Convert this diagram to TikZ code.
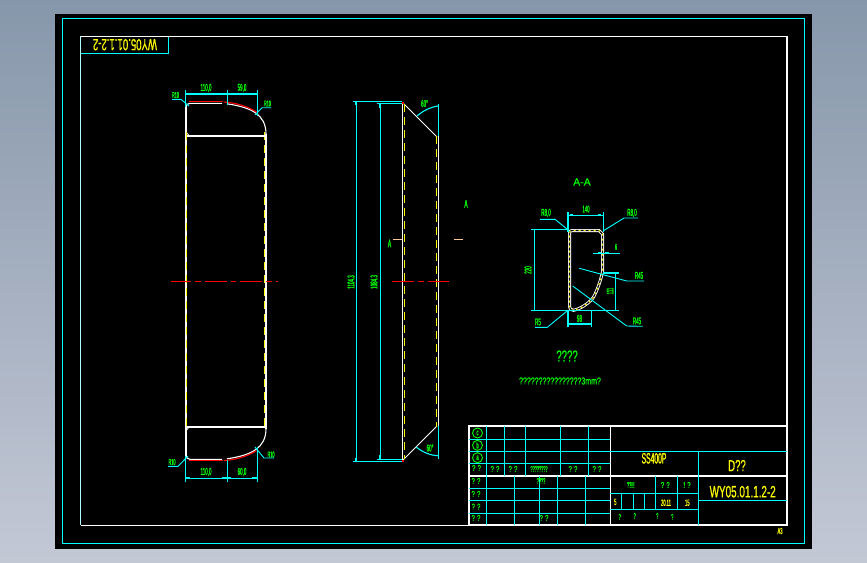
\documentclass[tikz,border=0pt]{standalone}
\usepackage{fontspec}
\newfontfamily\fa[FakeStretch=0.45,FakeBold=0.8]{Liberation Sans}
\newfontfamily\fb[FakeStretch=0.7,FakeBold=0.5]{Liberation Sans}
\newfontfamily\fd[FakeStretch=0.6,FakeBold=0.5]{Liberation Sans}
\newfontfamily\fe[FakeBold=0.4]{Liberation Sans}
\definecolor{cady}{HTML}{FFFF00}
\definecolor{cadg}{HTML}{00FF00}
\definecolor{cadc}{HTML}{00FFFF}
\definecolor{cadr}{HTML}{FF0000}
\definecolor{cadp}{HTML}{FFC89B}
\definecolor{bgtop}{HTML}{8797AB}
\definecolor{bgbot}{HTML}{C3C8D5}
\tikzset{
  wl/.style={draw=white,line width=1.1pt},
  wt/.style={draw=white,line width=0.8pt},
  yd/.style={draw=cady,line width=1pt,dash pattern=on 8pt off 5pt},
  rl/.style={draw=cadr,line width=1.1pt},
  cl/.style={draw=cadr,line width=1pt,dash pattern=on 22pt off 4pt on 5.5pt off 4pt},
  dm/.style={draw=cadc,line width=1.1pt},
  cy/.style={draw=cadc,line width=0.9pt},
  tk/.style={draw=cadc,line width=2.2pt},
  gt/.style={text=cadg,font=\fa\fontsize{10}{10}\selectfont,inner sep=0pt},
  gs/.style={text=cadg,font=\fa\fontsize{8.5}{8.5}\selectfont,inner sep=0pt},
  gq/.style={text=cadg,font=\fb\fontsize{8.5}{8.5}\selectfont,inner sep=0pt},
  yt/.style={text=cady,font=\fa\fontsize{9}{9}\selectfont,inner sep=0pt},
  wall/.style={draw=white,line width=3pt},
}
\newcommand{\halfview}{%
  \draw[wl] (186,108) .. controls (186,105) and (187,103.5) .. (190,103.3) -- (222,103.3);
  \draw[wl] (227,103.8) .. controls (240,105.7) and (250,108.7) .. (256,113.2) .. controls (262,117.5) and (266,124) .. (266,134);
  \draw[rl] (188.5,101.7) -- (223,101.7);
  \draw[rl] (224,102) .. controls (236,103) and (247,106) .. (256.5,112);
  \draw[wl,line width=1.6pt] (187,135.7) -- (265,135.7);
  \draw[wt] (187,133) -- (189,135.5);
}
\begin{document}
\begin{tikzpicture}[x=1pt,y=-1pt]
\useasboundingbox (0,0) rectangle (867,562);
\shade[top color=bgtop,bottom color=bgbot] (0,0) rectangle (867,562);
\fill[fill=black] (55,13.5) rectangle (812,548.5);
\draw[cy,line width=1.1pt] (62.3,18.5) rectangle (804.5,543.5);
\draw[draw=white,line width=1.2pt] (80.5,36.3) -- (787,36.3) -- (787,525.3) -- (80.5,525.3);
\draw[draw=white!70!cadc,line width=0.8pt] (80.5,36.3) -- (80.5,525.3);

% frame stamp
\draw[cy,line width=1.1pt] (168.7,36.5) -- (168.7,53.3) -- (80.5,53.3);
\node[text=cady,inner sep=0pt,rotate=180,font=\fd\fontsize{16}{16}\selectfont] (stamp) at (125,44.7) {WY05.01.1.2-2};

% left view
\draw[wl] (186,107) -- (186,455.6);
\draw[wl] (266,134) -- (266,428.6);
\draw[yd] (186.7,132) -- (186.7,431);
\draw[yd] (264.6,132) -- (264.6,431);
\halfview
\begin{scope}[shift={(0,562.6)},yscale=-1]
\halfview
\end{scope}
\draw[cl,dash phase=2pt] (171,281.3) -- (278,281.3);
% left view dimensions
\draw[dm] (185.5,90) -- (185.5,107);
\draw[dm] (227.3,90) -- (227.3,105);
\draw[dm] (257.3,90) -- (257.3,116);
\draw[dm] (185.5,94) -- (257.3,94);
\draw[tk] (186,94) -- (190,94) (222,94) -- (227,94) (228,94) -- (231,94) (252,94) -- (257,94);
\draw[dm] (185.5,456) -- (185.5,482);
\draw[dm] (227.3,460) -- (227.3,482);
\draw[dm] (257.3,447) -- (257.3,482);
\draw[dm] (185.5,478.3) -- (257.3,478.3);
\draw[tk] (186,478.3) -- (190,478.3) (222,478.3) -- (227,478.3) (228,478.3) -- (231,478.3) (252,478.3) -- (257,478.3);
\node[gt] (d1) at (206,88) {110,0};
\node[gt] (d2) at (242,88) {59,0};
\node[gt] (d3) at (206,472) {110,0};
\node[gt] (d4) at (242,472) {60,0};
\node[gs] (r1) at (175.5,95) {R10};
\node[gs] (r2) at (267.5,103.5) {R10};
\node[gs] (r3) at (172,462) {R10};
\node[gs] (r4) at (271,454.5) {R10};
\draw[cy] (172,99.3) -- (181,99.3) -- (189,106);
\draw[cy] (271,107.7) -- (262,107.7) -- (255,115);
\draw[cy] (168,466.3) -- (178,466.3) -- (188,456);
\draw[cy] (274,458) -- (264,458) -- (255,447);

% middle view
\draw[wl] (402.5,103) -- (402.5,460);
\draw[wl] (438.3,136) -- (438.3,427);
\draw[wt] (403,103) -- (437,137);
\draw[wt] (403,460) -- (437,426);
\draw[yd,line width=0.9pt] (404.3,104) -- (404.3,459);
\draw[yd,line width=0.9pt] (436.3,136) -- (436.3,427);
\draw[cl] (392,281.3) -- (449,281.3);
\draw[dm] (353,101.3) -- (402,101.3);
\draw[dm] (377,103.3) -- (402,103.3);
\draw[dm] (353,461.3) -- (402,461.3);
\draw[dm] (377,459.3) -- (402,459.3);
\draw[dm] (356.3,101.3) -- (356.3,461.3);
\draw[dm] (380.3,103.3) -- (380.3,459.3);
\draw[tk] (356.3,102) -- (356.3,105) (356.3,458) -- (356.3,461) (380.3,104) -- (380.3,108) (380.3,455) -- (380.3,459);
\draw[cy] (438.3,104) -- (438.3,136);
\draw[cy] (438.3,426) -- (438.3,459);
\draw[dm] (438,106) .. controls (431,107) and (424,110) .. (417,116);
\draw[dm] (438,455.7) .. controls (431,455.5) and (424,453) .. (416,447);
\fill[cadr] (401.5,102) rectangle (404,104);
\fill[cadr] (401.5,459.5) rectangle (404,461.5);
\node[gt] (a1) at (424.5,103.5) {60°};
\node[gt] (a2) at (430,448) {60°};
\node[gt,rotate=90] (h1) at (351,282) {1104.3};
\node[gt,rotate=90] (h2) at (374,282) {1084.3};
\draw[draw=cadp,line width=0.9pt] (393,239.5) -- (402,239.5);
\draw[draw=cadp,line width=0.9pt] (454,239.5) -- (463,239.5);
\node[gt,font=\fa\fontsize{11}{11}\selectfont] (ma) at (389.5,243.5) {A};
\node[gt,font=\fa\fontsize{11}{11}\selectfont] (mb) at (466,204) {A};

% section
\newcommand{\secpath}{(573.5,310.3) .. controls (571,310.3) and (569.5,309) .. (569.5,306.5) -- (569.5,233) .. controls (569.5,231.5) and (570.5,230.5) .. (572,230.5) -- (599,230.5) -- (602.5,234) -- (602.5,272) .. controls (600.5,281) and (597,291) .. (593,298) .. controls (588,304) and (580,309) .. (573.5,310.3) -- cycle}
\draw[wall] \secpath;
\draw[draw=black,line width=1.2pt] \secpath;
\draw[draw=cady,line width=0.9pt,dash pattern=on 2pt off 3pt] \secpath;
\draw[dm] (568,212) -- (568,232);
\draw[dm] (603.3,212) -- (603.3,232);
\draw[dm] (568,215.3) -- (603.3,215.3);
\draw[tk] (570,215.3) -- (573,215.3) (598,215.3) -- (601,215.3);
\draw[cy] (540,219.3) -- (555,219.3) -- (567,229);
\draw[cy] (638,218) -- (624,218) -- (603,231);
\draw[dm] (531,229.5) -- (568,229.5);
\draw[dm] (534.3,229.5) -- (534.3,310.3);
\draw[dm] (531,310.3) -- (619,310.3);
\draw[dm] (593,253.3) -- (620,253.3);
\draw[tk] (598,253.3) -- (601,253.3) (605,253.3) -- (609,253.3);
\draw[dm] (615.7,272) -- (615.7,310.3);
\draw[dm] (603,273) -- (619,273);
\draw[cy] (579.3,268.3) -- (626.7,281) -- (644,281);
\draw[cy] (572.7,286) -- (626.7,326) -- (642.7,326.3);
\draw[cy] (535,327.3) -- (547.3,327.3) -- (568.3,310);
\draw[dm] (568,310) -- (568,327);
\draw[dm] (591.5,310) -- (591.5,327);
\draw[dm] (568,324) -- (591.5,324);
\draw[tk] (569,324) -- (572.5,324) (587,324) -- (591,324);
\node[gs,font=\fa\fontsize{9.5}{9.5}\selectfont] (s1) at (586,209) {140};
\node[gt] (s2) at (546,213) {R8,0};
\node[gt] (s3) at (632,213) {R8,0};
\node[gs] (s4) at (616,247) {6};
\node[gs,font=\fa\fontsize{10}{10}\selectfont,rotate=90] (s5) at (528,270) {220};
\node[gs,font=\fa\fontsize{10}{10}\selectfont,rotate=90] (s6) at (610,291) {111};
\node[gt] (s7) at (639,275.5) {R45};
\node[gt] (s8) at (637,321) {R45};
\node[gt] (s9) at (538,322) {R5};
\node[gt] (s10) at (579.5,318.5) {98};
\node[gt,font=\fe\fontsize{10.5}{10.5}\selectfont] (sec) at (582,182) {A-A};
\node[gt,font=\fd\fontsize{16}{16}\selectfont] (n1) at (567,356) {????};
\node[gt,font=\fb\fontsize{10}{10}\selectfont] (n2) at (560,381) {????????????????3mm?};

% title block
\draw[draw=white,line width=1.1pt] (469,426) rectangle (787,525);
\draw[draw=white,line width=1.1pt] (610.3,426) -- (610.3,525);
\draw[draw=white,line width=1.1pt] (469,476) -- (787,476);
\foreach \y in {439,451.3,463.3} \draw[cy] (469,\y) -- (610.3,\y);
\draw[cy,line width=1.1pt] (610.3,451.3) -- (787,451.3);
\foreach \x in {486.3,504.3,525.3,560.3,588.3} \draw[cy] (\x,426) -- (\x,476);
\foreach \y in {488.3,500.3,513.3} \draw[cy] (469,\y) -- (610.3,\y);
\foreach \x in {486.3,514.3,539.3,557.3,585.3} \draw[cy] (\x,476) -- (\x,525);
\draw[cy] (698.3,451.3) -- (698.3,525);
\draw[cy] (698.3,500.3) -- (787,500.3);
\foreach \y in {493.3,509.3} \draw[cy] (610.3,\y) -- (698.3,\y);
\foreach \x in {655.3,677.3} \draw[cy] (\x,476) -- (\x,509.3);
\foreach \x in {621.3,633.3,644.3} \draw[cy] (\x,493.3) -- (\x,509.3);
\draw[draw=cadg,line width=0.9pt] (477.5,433) circle (5);
\draw[draw=cadg,line width=0.9pt] (477.5,445.3) circle (5);
\draw[draw=cadg,line width=0.9pt] (477.5,457.7) circle (5);
\node[gs] (c1) at (477.5,433) {c};
\node[gs] (c2) at (477.5,445.3) {b};
\node[gs] (c3) at (477.5,457.7) {a};
\node[gq] (t1) at (476.5,468) {? ?};
\node[gq] (t2) at (495,469) {? ?};
\node[gq] (t3) at (513,469) {? ?};
\node[gs] (t4) at (539,469) {????????};
\node[gq] (t5) at (573,469) {? ?};
\node[gq] (t6) at (597,469) {? ?};
\node[gq] (t7) at (476,481) {? ?};
\node[gs] (t8) at (541,481) {????};
\node[gq] (t9) at (476,494) {? ?};
\node[gq] (t10) at (476,506.7) {? ?};
\node[gq] (t11) at (476,518) {? ?};
\node[gq] (t12) at (544,518) {? ?};
\node[gs] (t13) at (630.7,485) {??!!!};
\node[gq] (t14) at (665.3,485) {? ?};
\node[gq] (t15) at (687,485) {! ?};
\node[gs] (t16) at (619.7,517) {?};
\node[gs] (t17) at (634.7,516) {?};
\node[gs] (t18) at (657.3,516) {?};
\node[gs] (t19) at (672.3,517) {?};
\node[yt] (y1) at (615.3,502) {5};
\node[yt] (y2) at (666,502.7) {20.11};
\node[yt] (y3) at (687.3,502.7) {15};
\node[yt,font=\fa\fontsize{15}{15}\selectfont] (y4) at (654,458.3) {SS400P};
\node[yt,font=\fd\fontsize{16}{16}\selectfont] (y5) at (737,465.5) {D??};
\node[yt,font=\fd\fontsize{16.5}{16.5}\selectfont] (y6) at (742.7,491.7) {WY05.01.1.2-2};
\node[yt] (y7) at (780,531) {A3};
\end{tikzpicture}
\end{document}
